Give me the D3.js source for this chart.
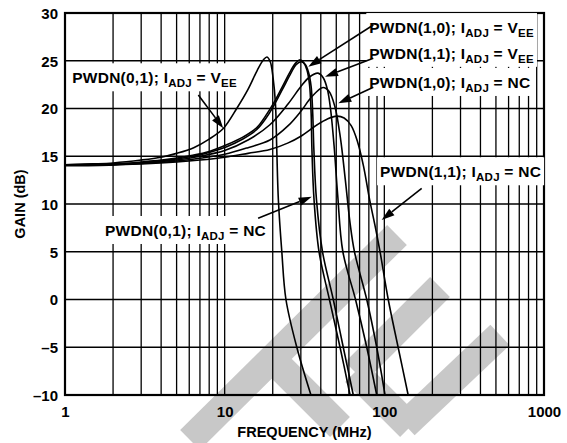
<!DOCTYPE html>
<html><head><meta charset="utf-8">
<script src="https://cdn.jsdelivr.net/npm/d3@7"></script>
<style>
html,body{margin:0;padding:0;background:#fff;}
svg{display:block;}
text{font-family:"Liberation Sans",Arial,Helvetica,sans-serif;font-weight:bold;fill:#000;}
</style></head><body>
<svg id="chart" width="567" height="443"></svg>
<script>
// ---------- data ----------
const xTickValues = [1, 10, 100, 1000];
const xTickLabels = ["1", "10", "100", "1000"];
const yTickValues = [-10, -5, 0, 5, 10, 15, 20, 25, 30];
const yTickLabels = ["\u201310", "\u20135", "0", "5", "10", "15", "20", "25", "30"];
const xTitle = "FREQUENCY (MHz)";
const yTitle = "GAIN (dB)";

// [frequency MHz, gain dB]
const pwdn01_vee = [[1,14.1],[1.5,14.2],[2,14.3],[3,14.6],[4,14.9],[5,15.3],[6.4,15.9],[8,16.8],[9.8,17.9],[11.9,20.0],[14,22.0],[16,24.0],[17.5,25.1],[18.4,25.4],[19.3,24.9],[20.1,23.2],[20.8,20.5],[21.2,15.7],[21.7,10.4],[22.8,5],[24.2,0],[28.3,-5],[34.7,-10]];
const pwdn10_vee = [[1,14.1],[2,14.2],[3,14.4],[4.5,14.7],[6.3,15.1],[8,15.5],[10.3,16.2],[13,17.0],[15.9,18.0],[18,19.2],[20,20.4],[23,22.3],[26,24.0],[28,24.8],[29.6,25.1],[31.3,24.8],[32.8,24.0],[34,22.5],[34.8,19.5],[35.2,15.7],[36.3,10.4],[39,5],[45.3,0],[52.8,-5],[61,-10]];
const pwdn01_nc  = [[1,14.0],[2,14.1],[3,14.3],[4.5,14.6],[6.3,15.0],[8,15.4],[10.3,16.0],[13,16.8],[15.9,17.8],[18,18.9],[20,20.1],[23,22.0],[26,23.7],[28,24.6],[30.2,24.9],[32,24.6],[33.5,23.8],[34.8,22.3],[35.6,19.5],[36.2,15.7],[37.6,10.4],[41,5],[47.9,0],[55.3,-5],[63.9,-10]];
const pwdn11_vee = [[1,14.1],[2,14.2],[3,14.3],[5,14.6],[7,15.0],[10,15.6],[14,16.7],[19.2,18.3],[25,20.5],[30,22.3],[34,23.3],[38.4,23.7],[41.5,23.2],[44,22],[46,20],[48.5,16],[51,11],[55,5],[66,0],[77.6,-5],[89.6,-10]];
const pwdn10_nc  = [[1,14.1],[2,14.15],[3,14.25],[5,14.5],[7,14.8],[10,15.2],[14,15.9],[19.2,16.7],[25,18.2],[30,19.7],[35,21.2],[41.3,22.2],[45,21.8],[49,20.2],[53,17],[57,12.5],[61,8],[65,5],[77.6,0],[89.6,-5],[101,-10]];
const pwdn11_nc  = [[1,14.1],[2,14.1],[3,14.2],[5,14.4],[7,14.6],[10,14.9],[14,15.3],[19.2,15.7],[25,16.4],[30,17.1],[38,18.3],[44,18.9],[50.3,19.2],[56,19.0],[62,18.2],[68,16.5],[74,14],[81,10.4],[88,7.5],[94,5],[105.8,0],[122,-5],[141,-10]];
const seriesList = [pwdn01_vee, pwdn10_vee, pwdn01_nc, pwdn11_vee, pwdn10_nc, pwdn11_nc];

// annotation labels (anchor and arrows in data units)
const labelMains = ["PWDN(1,0); I", "PWDN(1,1); I", "PWDN(1,0); I", "PWDN(1,1); I", "PWDN(0,1); I", "PWDN(0,1); I"];
const labelEnds  = ["VEE", "VEE", "NC", "NC", "NC", "VEE"];
const labelAt    = [[80.5,27.9],[80.5,25.2],[80.5,22.15],[94,12.8],[1.78,6.65],[1.11,22.64]];
const arrowFrom  = [[85.3,28.74],[85.3,25.26],[85.3,22.22],[171.4,11.64],[16.2,8.5],[6.84,21.41]];
const arrowTo    = [[33.4,24.38],[42.5,23.33],[51.5,20.54],[96.2,8.32],[35.1,10.76],[9.8,17.93]];

// ---------- drawing ----------
const W = 567, H = 443;
const m = {left: 65, right: 23, top: 13, bottom: 48};
const svg = d3.select("#chart");
const x = d3.scaleLog().domain([1, 1000]).range([m.left, W - m.right]);
const y = d3.scaleLinear().domain([-10, 30]).range([H - m.bottom, m.top]);

// background watermark (decorative diagonal bands)
const wmBands = [[[190,440],[397,235]], [[355,372],[440,287]], [[355,372],[410,427]], [[405,425],[500,335]], [[268,355],[340,427]]];
const wm = svg.append("g").attr("fill", "#c8c8c8");
wmBands.forEach(([a, b]) => {
  const dx = b[0] - a[0], dy = b[1] - a[1], len = Math.hypot(dx, dy);
  const hw = 14, nx = -dy / len * hw, ny = dx / len * hw;
  wm.append("path").attr("d", `M${a[0]+nx},${a[1]+ny}L${b[0]+nx},${b[1]+ny}L${b[0]-nx},${b[1]-ny}L${a[0]-nx},${a[1]-ny}Z`);
});

// grid
const gridX = [];
for (let d = 1; d < 1000; d *= 10) for (let k = 1; k <= 9; k++) gridX.push(d * k);
const grid = svg.append("g").attr("stroke", "#000").attr("stroke-width", 1.3);
grid.selectAll("line.v").data(gridX).join("line").attr("class", "v")
  .attr("x1", d => x(d)).attr("x2", d => x(d)).attr("y1", y(30)).attr("y2", y(-10));
grid.selectAll("line.h").data(yTickValues).join("line").attr("class", "h")
  .attr("x1", x(1)).attr("x2", x(1000)).attr("y1", d => y(d)).attr("y2", d => y(d));

// curves
const line = d3.line().x(d => x(d[0])).y(d => y(d[1])).curve(d3.curveCatmullRom.alpha(0.5));
svg.append("g").selectAll("path").data(seriesList).join("path")
  .attr("d", line).attr("fill", "none").attr("stroke", "#000")
  .attr("stroke-width", 1.6).attr("stroke-linejoin", "round");

// border
svg.append("rect").attr("x", x(1)).attr("y", y(30)).attr("width", x(1000) - x(1)).attr("height", y(-10) - y(30))
  .attr("fill", "none").attr("stroke", "#000").attr("stroke-width", 2.2);

// axes
const fs = 15;
const xAxis = d3.axisBottom(x).tickValues(xTickValues).tickFormat((d, i) => xTickLabels[i]).tickSize(0).tickPadding(8);
const gx = svg.append("g").attr("transform", `translate(0,${y(-10)})`).call(xAxis);
gx.select(".domain").remove();
gx.selectAll("text").attr("font-size", fs).attr("font-family", null).attr("dy", "0.95em");
const yAxis = d3.axisLeft(y).tickValues(yTickValues).tickFormat((d, i) => yTickLabels[i]).tickSize(0).tickPadding(7);
const gy = svg.append("g").attr("transform", `translate(${x(1)},0)`).call(yAxis);
gy.select(".domain").remove();
gy.selectAll("text").attr("font-size", fs).attr("font-family", null).attr("dy", "0.36em");

svg.append("text").attr("x", (x(1) + x(1000)) / 2).attr("y", H - 6).attr("text-anchor", "middle")
  .attr("font-size", 14.5).text(xTitle);
svg.append("text").attr("transform", `translate(25,${(y(-10)+y(30))/2}) rotate(-90)`).attr("text-anchor", "middle")
  .attr("font-size", 14.5).text(yTitle);

// labels with white boxes
const lfs = 15.5, sfs = 11.5;
const bgLayer = svg.append("g");
const arrowLayer = svg.append("g");
const labLayer = svg.append("g");
labelMains.forEach((mainTxt, i) => {
  const t = labLayer.append("text").attr("x", x(labelAt[i][0])).attr("y", y(labelAt[i][1]))
    .attr("font-size", lfs).attr("letter-spacing", 0.25);
  t.append("tspan").text(mainTxt);
  t.append("tspan").attr("font-size", sfs).attr("dy", 4).text("ADJ");
  if (labelEnds[i] === "VEE") {
    t.append("tspan").attr("dy", -4).text(" = V");
    t.append("tspan").attr("font-size", sfs).attr("dy", 4).text("EE");
  } else {
    t.append("tspan").attr("dy", -4).text(" = NC");
  }
  const bb = t.node().getBBox();
  bgLayer.append("rect").attr("x", bb.x - 3).attr("y", bb.y - 6).attr("width", bb.width + 6).attr("height", bb.height + 8).attr("fill", "#fff");
});

// arrows
arrowFrom.forEach((f, i) => {
  const x1 = x(f[0]), y1 = y(f[1]), x2 = x(arrowTo[i][0]), y2 = y(arrowTo[i][1]);
  const ang = Math.atan2(y2 - y1, x2 - x1);
  const L = 13, hw = 4.2;
  const bx = x2 - L * Math.cos(ang), by = y2 - L * Math.sin(ang);
  arrowLayer.append("line").attr("x1", x1).attr("y1", y1).attr("x2", bx).attr("y2", by)
    .attr("stroke", "#000").attr("stroke-width", 1.6);
  const px = -Math.sin(ang) * hw, py = Math.cos(ang) * hw;
  arrowLayer.append("path").attr("d", `M${x2},${y2}L${bx + px},${by + py}L${bx - px},${by - py}Z`).attr("fill", "#000");
});
</script>
</body></html>
